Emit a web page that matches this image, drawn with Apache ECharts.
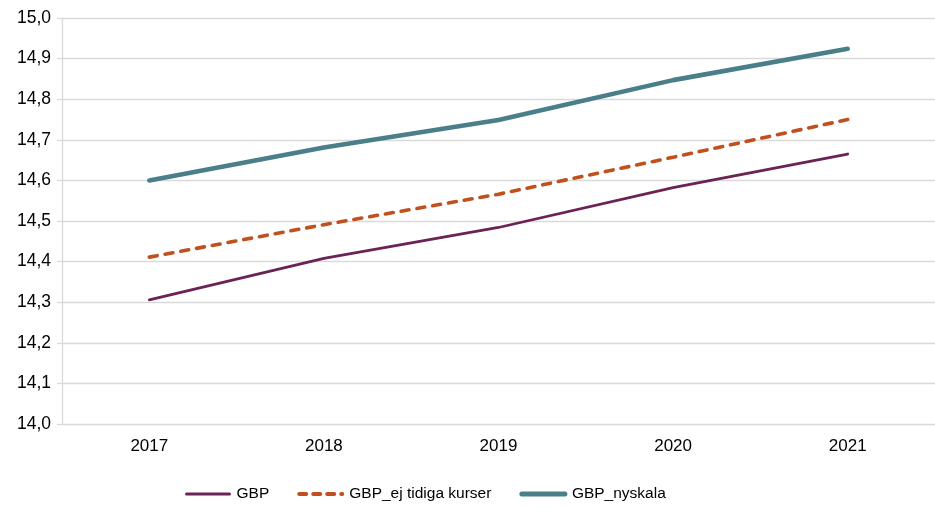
<!DOCTYPE html>
<html>
<head>
<meta charset="utf-8">
<script src="https://cdn.jsdelivr.net/npm/echarts@6/dist/echarts.min.js"></script>
<style>
  html, body { margin: 0; padding: 0; background: #fff; }
  #chart { width: 935px; height: 508px; }
</style>
</head>
<body>
<div id="chart"></div>
<script>
// Years on the category axis
const years = ['2017', '2018', '2019', '2020', '2021'];

// Series values
const gbp = [14.306, 14.408, 14.484, 14.582, 14.665];
const gbpEjTidiga = [14.411, 14.491, 14.566, 14.657, 14.750];
const gbpNyskala = [14.600, 14.681, 14.749, 14.847, 14.924];

// Value axis range
const yMin = 14.0;
const yMax = 15.0;
const yStep = 0.1;

const font = 'Liberation Sans, Arial, sans-serif';

const chart = echarts.init(document.getElementById('chart'), null, { renderer: 'canvas' });

chart.setOption({
  animation: false,
  backgroundColor: '#ffffff',
  textStyle: { fontFamily: font },
  grid: { left: 62, right: -3, top: 18, bottom: 84, containLabel: false },
  legend: {
    top: 486,
    left: 185,
    padding: 0,
    itemWidth: 43,
    itemHeight: 12,
    itemGap: 28,
    itemStyle: { opacity: 0 },
    textStyle: { fontFamily: font, fontSize: 15.5, color: '#000', padding: [0, 0, 0, 2] },
    data: [
      { name: 'GBP', lineStyle: { width: 3, cap: 'round' } },
      { name: 'GBP_ej tidiga kurser', lineStyle: { width: 4, type: [7, 7], cap: 'round' } },
      { name: 'GBP_nyskala', lineStyle: { width: 5, cap: 'round' } }
    ]
  },
  xAxis: {
    type: 'category',
    data: years,
    boundaryGap: true,
    axisLine: { show: false },
    axisTick: { show: false },
    axisLabel: { color: '#000', fontSize: 17, fontFamily: font, margin: 14 }
  },
  yAxis: {
    type: 'value',
    min: yMin,
    max: yMax,
    interval: yStep,
    axisLine: { show: true, lineStyle: { color: '#d9d9d9', width: 1.3 } },
    axisTick: { show: true, length: 5, lineStyle: { color: '#d9d9d9', width: 1.3 } },
    splitLine: { show: true, lineStyle: { color: '#d9d9d9', width: 1.3 } },
    axisLabel: {
      color: '#000', fontSize: 17.5, fontFamily: font, margin: 11,
      formatter: v => v.toFixed(1).replace('.', ',')
    }
  },
  series: [
    {
      name: 'GBP',
      type: 'line',
      data: gbp,
      symbol: 'none',
      lineStyle: { color: '#6b2356', width: 2.8, cap: 'round' },
      itemStyle: { color: '#6b2356' }
    },
    {
      name: 'GBP_ej tidiga kurser',
      type: 'line',
      data: gbpEjTidiga,
      symbol: 'none',
      lineStyle: { color: '#c0501e', width: 3.6, type: [8, 8], cap: 'round' },
      itemStyle: { color: '#c0501e' }
    },
    {
      name: 'GBP_nyskala',
      type: 'line',
      data: gbpNyskala,
      symbol: 'none',
      lineStyle: { color: '#4a7f8a', width: 4.6, cap: 'round' },
      itemStyle: { color: '#4a7f8a' }
    }
  ]
});
</script>
</body>
</html>
